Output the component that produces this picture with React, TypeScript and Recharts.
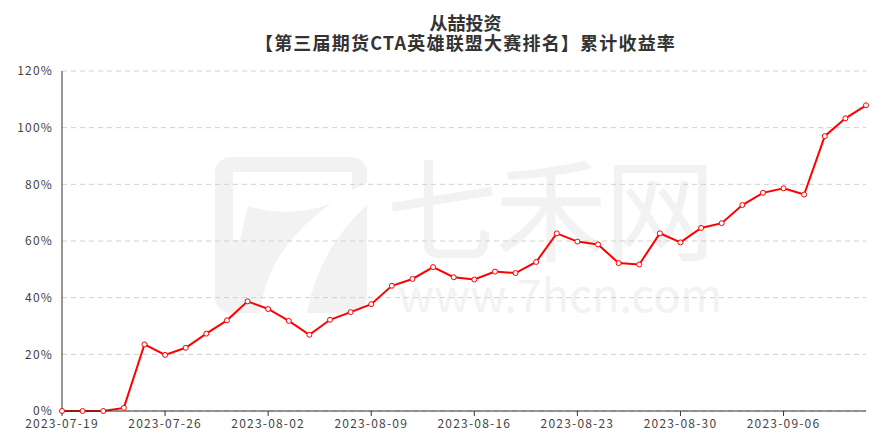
import React from "react";
import { LineChart, Line, XAxis, YAxis, CartesianGrid } from "recharts";

const DATES = [
  "2023-07-19", "2023-07-20", "2023-07-21", "2023-07-24", "2023-07-25",
  "2023-07-26", "2023-07-27", "2023-07-28", "2023-07-31", "2023-08-01",
  "2023-08-02", "2023-08-03", "2023-08-04", "2023-08-07", "2023-08-08",
  "2023-08-09", "2023-08-10", "2023-08-11", "2023-08-14", "2023-08-15",
  "2023-08-16", "2023-08-17", "2023-08-18", "2023-08-21", "2023-08-22",
  "2023-08-23", "2023-08-24", "2023-08-25", "2023-08-28", "2023-08-29",
  "2023-08-30", "2023-08-31", "2023-09-01", "2023-09-04", "2023-09-05",
  "2023-09-06", "2023-09-07", "2023-09-08", "2023-09-11", "2023-09-12",
];

// cumulative return, %
const RETURNS = [
  0, 0, 0, 1.1, 23.5, 19.8, 22.3, 27.3, 32.0, 38.7,
  36.0, 31.8, 26.9, 32.2, 34.9, 37.7, 44.2, 46.6, 50.8, 47.2,
  46.4, 49.2, 48.7, 52.6, 62.7, 59.8, 58.8, 52.2, 51.7, 62.7,
  59.5, 64.6, 66.3, 72.7, 77.0, 78.6, 76.4, 97.0, 103.3, 107.9,
];

const Y_TICKS = [0, 20, 40, 60, 80, 100, 120];

const TITLE = "从喆投资";
const SUBTITLE = "【第三届期货CTA英雄联盟大赛排名】累计收益率";

const FONT = "'Noto Sans CJK SC', 'Noto Sans', sans-serif";

// faint site watermark behind the plot
function Watermark() {
  return (
    <div style={{ position: "absolute", left: 0, top: 0, width: 883, height: 441, color: "#f2f2f2", pointerEvents: "none" }}>
      <svg width={883} height={441} style={{ position: "absolute", left: 0, top: 0 }}>
        <rect x={215} y={157} width={152} height={156} rx={16} fill="#f2f2f2" />
        <path d="M233,172 L352,172 L352,194 Q300,222 248,206 L240,240 L233,240 Z" fill="#fff" />
        <path d="M349,192 L367,182 L367,205 Q318,250 307,313 L260,313 Q268,240 349,192 Z" fill="#fff" />
      </svg>
      <div style={{ position: "absolute", left: 386, top: 148, fontSize: 112, lineHeight: "112px", letterSpacing: -3 }}>七禾网</div>
      <div style={{ position: "absolute", left: 398, top: 270, fontSize: 45, lineHeight: "45px" }}>www.7hcn.com</div>
    </div>
  );
}

export default function App() {
  const data = DATES.map((d, i) => ({ date: d, value: RETURNS[i] }));
  const tickStyle = { fontSize: 12, fill: "#444", fontFamily: FONT, letterSpacing: 1.2 };

  return (
    <div style={{ position: "absolute", left: 0, top: 0, width: 883, height: 441, background: "#fff", fontFamily: FONT }}>
      <Watermark />

      <div style={{ position: "absolute", left: 24, top: 12, width: 883, textAlign: "center", fontSize: 18, fontWeight: 700, color: "#333", lineHeight: "20px" }}>
        <div>{TITLE}</div>
        <div style={{ letterSpacing: 1.2 }}>{SUBTITLE}</div>
      </div>

      <div style={{ position: "absolute", left: 0, top: 0 }}>
        <LineChart width={883} height={441} data={data} margin={{ top: 71, right: 17, bottom: 0, left: 0 }}>
          <CartesianGrid vertical={false} stroke="#d0d0d0" strokeDasharray="5 4" />
          <XAxis
            dataKey="date"
            interval={4}
            height={30}
            tick={tickStyle}
            tickSize={5}
            tickMargin={3}
            axisLine={{ stroke: "#333" }}
            tickLine={{ stroke: "#333" }}
          />
          <YAxis
            domain={[0, 120]}
            ticks={Y_TICKS}
            width={62}
            tickFormatter={(v: number) => `${v}%`}
            tick={tickStyle}
            tickLine={false}
            tickSize={8}
            tickMargin={1}
            axisLine={{ stroke: "#333" }}
          />
          <Line
            type="linear"
            dataKey="value"
            stroke="#ff0000"
            strokeWidth={2}
            dot={{ r: 2.5, fill: "#fff", stroke: "#ff0000", strokeWidth: 1 }}
            isAnimationActive={false}
          />
        </LineChart>
      </div>
    </div>
  );
}
